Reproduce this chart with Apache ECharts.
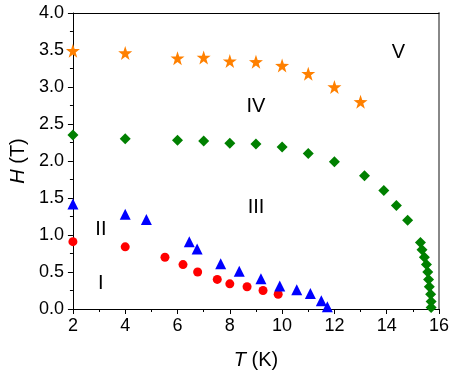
<!DOCTYPE html>
<html>
<head>
<meta charset="utf-8">
<script src="https://cdn.jsdelivr.net/npm/echarts@6/dist/echarts.min.js"></script>
<style>
  html, body { margin: 0; padding: 0; background: #fff; }
  #chart { width: 463px; height: 378px; }
</style>
</head>
<body>
<div id="chart"></div>
<script>
// phase boundaries, [T (K), H (T)]
const phaseI = [[2, 0.91], [4, 0.84], [5.52, 0.70], [6.21, 0.60], [6.77, 0.50], [7.52, 0.40], [8.0, 0.34], [8.66, 0.30], [9.27, 0.25], [9.85, 0.20]];
const phaseII = [[2, 1.42], [4, 1.28], [4.81, 1.21], [6.45, 0.91], [6.75, 0.81], [7.65, 0.61], [8.36, 0.51], [9.19, 0.41], [9.91, 0.31], [10.56, 0.26], [11.08, 0.21], [11.5, 0.11], [11.73, 0.03]];
const phaseIII = [[2, 2.35], [4, 2.30], [6, 2.28], [7, 2.27], [8, 2.24], [9, 2.23], [10, 2.19], [11, 2.10], [12, 1.99], [13.15, 1.80], [13.89, 1.60], [14.37, 1.40], [14.8, 1.20], [15.29, 0.90], [15.35, 0.80], [15.44, 0.70], [15.52, 0.60], [15.57, 0.50], [15.6, 0.40], [15.63, 0.30], [15.68, 0.20], [15.7, 0.10], [15.7, 0.02]];
const phaseIV = [[2, 3.49], [4, 3.46], [6, 3.39], [7, 3.40], [8, 3.35], [9, 3.34], [10, 3.29], [11, 3.18], [12, 3.0], [13, 2.80]];
const regionLabels = [[3.07, 0.34, 'I'], [3.07, 1.08, 'II'], [9, 1.37, 'III'], [9, 2.73, 'IV'], [14.45, 3.46, 'V']];

const chart = echarts.init(document.getElementById('chart'));
const font = 'Liberation Sans, Arial, sans-serif';

function pts(name, data, symbol, size, color) {
  return {
    name: name,
    type: 'scatter',
    data: data,
    symbol: symbol,
    symbolSize: size,
    itemStyle: { color: color, opacity: 1 },
    clip: true,
    z: 3
  };
}

const starPath = 'path://M50,0 L61.8,35.1 L98.9,35.5 L69.1,57.6 L80.2,93 L50,71.5 L19.8,93 L30.9,57.6 L1.1,35.5 L38.2,35.1 Z';

const option = {
  animation: false,
  grid: { left: 72, right: 24, top: 13, bottom: 69, containLabel: false },
  xAxis: [{
    type: 'value',
    min: 2, max: 16, interval: 2,
    name: '{i|T} (K)',
    nameLocation: 'middle',
    nameGap: 41,
    nameTextStyle: {
      fontFamily: font, fontSize: 20, color: '#000',
      rich: { i: { fontStyle: 'italic', fontFamily: font, fontSize: 20, color: '#000' } }
    },
    axisLine: { show: true, onZero: false, lineStyle: { color: '#000', width: 1 } },
    axisTick: { show: true, inside: false, length: 5, lineStyle: { color: '#000' } },
    minorTick: { show: true, splitNumber: 2, length: 3, lineStyle: { color: '#000' } },
    axisLabel: { fontFamily: font, fontSize: 18, color: '#000', margin: 8 },
    splitLine: { show: false }
  }, {
    type: 'value', position: 'top',
    min: 2, max: 16,
    axisLine: { show: true, onZero: false, lineStyle: { color: '#000', width: 1 } },
    axisTick: { show: false }, axisLabel: { show: false }, splitLine: { show: false }
  }],
  yAxis: [{
    type: 'value',
    min: 0, max: 4, interval: 0.5,
    name: '{i|H} (T)',
    nameLocation: 'middle',
    nameGap: 44,
    nameTextStyle: {
      fontFamily: font, fontSize: 20, color: '#000',
      rich: { i: { fontStyle: 'italic', fontFamily: font, fontSize: 20, color: '#000' } }
    },
    axisLine: { show: true, onZero: false, lineStyle: { color: '#000', width: 1 } },
    axisTick: { show: true, inside: false, length: 5, lineStyle: { color: '#000' } },
    minorTick: { show: true, splitNumber: 2, length: 3, lineStyle: { color: '#000' } },
    axisLabel: {
      fontFamily: font, fontSize: 18, color: '#000', margin: 9,
      formatter: v => v.toFixed(1)
    },
    splitLine: { show: false }
  }, {
    type: 'value', position: 'right',
    min: 0, max: 4,
    axisLine: { show: true, onZero: false, lineStyle: { color: '#888', width: 2 } },
    axisTick: { show: false }, axisLabel: { show: false }, splitLine: { show: false }
  }],
  series: [
    pts('I', phaseI, 'circle', 9, '#ff0000'),
    pts('II', phaseII, 'triangle', 11, '#0000ff'),
    pts('III', phaseIII, 'diamond', 11, '#008000'),
    pts('IV', phaseIV, starPath, 14, '#ff8000'),
    {
      name: 'regions',
      type: 'scatter',
      data: regionLabels,
      symbolSize: 1,
      itemStyle: { color: 'transparent', opacity: 1 },
      z: 4,
      label: {
        show: true,
        position: 'inside',
        formatter: p => p.value[2],
        fontFamily: font, fontSize: 20, color: '#000',
        opacity: 1,
        textBorderWidth: 0
      }
    }
  ]
};

chart.setOption(option);
</script>
</body>
</html>
